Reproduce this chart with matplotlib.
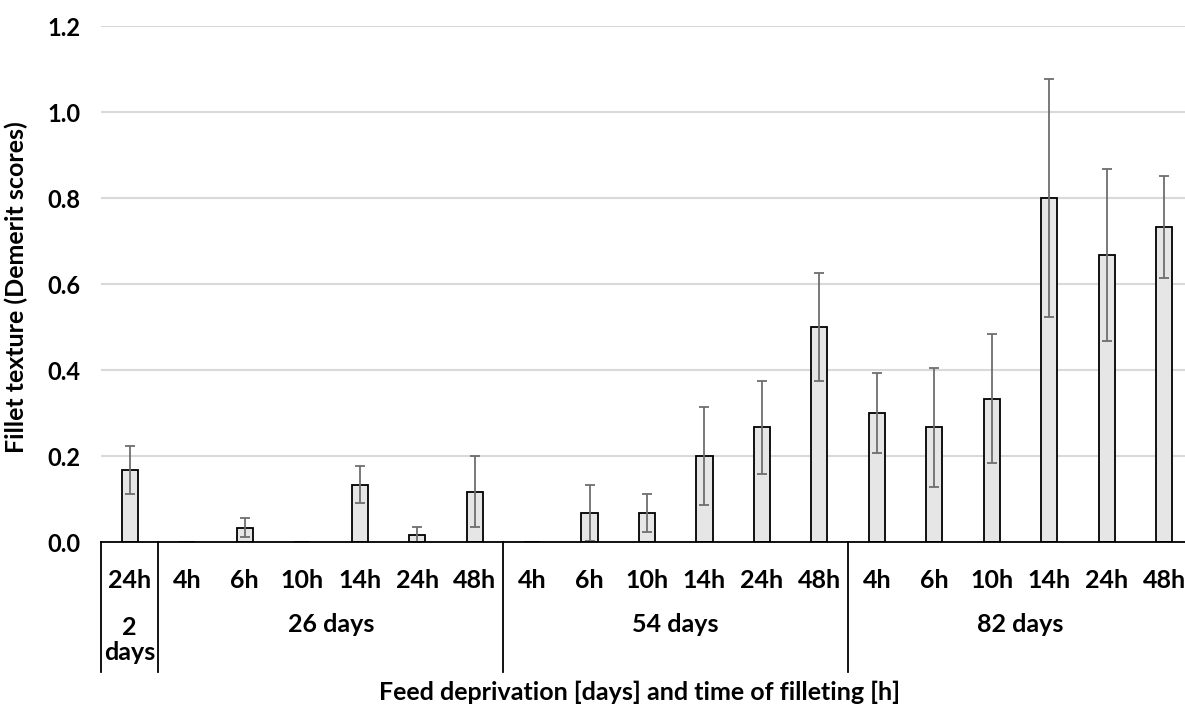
import numpy as np
import matplotlib.pyplot as plt

# Fillet texture scores by feed deprivation period and filleting time
hours = ['24h',
         '4h', '6h', '10h', '14h', '24h', '48h',
         '4h', '6h', '10h', '14h', '24h', '48h',
         '4h', '6h', '10h', '14h', '24h', '48h']
groups = ['2\ndays', '26 days', '54 days', '82 days']
group_sizes = [1, 6, 6, 6]
means = [0.167,
         0.0, 0.033, 0.0, 0.133, 0.017, 0.117,
         0.0, 0.067, 0.067, 0.2, 0.267, 0.5,
         0.3, 0.267, 0.333, 0.8, 0.667, 0.733]
errors = [0.056,
          0.0, 0.022, 0.0, 0.043, 0.018, 0.082,
          0.0, 0.065, 0.044, 0.115, 0.108, 0.125,
          0.092, 0.138, 0.15, 0.276, 0.2, 0.118]

plt.rcParams['font.family'] = ['Lato', 'DejaVu Sans']
plt.rcParams['font.weight'] = 'bold'
fs = 18

fig = plt.figure(figsize=(11.85, 7.04), dpi=100)
ax = fig.add_axes([101 / 1185, 162 / 704, 1092 / 1185, 516 / 704])

x = np.arange(len(means))
ax.bar(x, means, width=0.28, color='#e6e6e6', edgecolor='black', linewidth=1.3, zorder=3)
m = np.array(errors) > 0
ax.errorbar(x[m], np.array(means)[m], yerr=np.array(errors)[m], fmt='none',
            ecolor='#6e6e6e', elinewidth=1.3, capsize=3.5, capthick=1.3, zorder=4)

ax.set_xlim(-0.5, len(means) - 0.5)
ax.set_ylim(0, 1.2)
ax.set_yticks(np.arange(0, 1.21, 0.2))
ax.set_yticklabels([f'{v:.1f}' for v in np.arange(0, 1.21, 0.2)], fontsize=17, fontweight='bold')
ax.tick_params(axis='y', length=0, pad=15)
ax.set_xticks([])
ax.yaxis.grid(True, color='#d9d9d9', linewidth=1.5, zorder=0)
ax.set_axisbelow(True)
for s in ['top', 'right', 'left']:
    ax.spines[s].set_visible(False)
ax.spines['bottom'].set_linewidth(1.3)
ax.spines['bottom'].set_zorder(5)

tr = ax.get_xaxis_transform()
for i, h in enumerate(hours):
    ax.text(i, -39 / 516, h, transform=tr, ha='center', va='center', fontsize=fs, fontweight='bold')

start = -0.5
ax.plot([start, start], [0, -130 / 516], transform=tr, color='black', lw=1.3, clip_on=False)
for g, n in zip(groups, group_sizes):
    mid = start + n / 2
    if '\n' in g:
        ax.text(mid, -98 / 516, g, transform=tr, ha='center', va='center', fontsize=fs,
                fontweight='bold', linespacing=1.15)
    else:
        ax.text(mid, -83 / 516, g, transform=tr, ha='center', va='center', fontsize=fs, fontweight='bold')
    start += n
    ax.plot([start, start], [0, -130 / 516], transform=tr, color='black', lw=1.3, clip_on=False)

ax.set_ylabel('Fillet texture (Demerit scores)', fontsize=fs, fontweight='bold')
ax.yaxis.set_label_coords(-73 / 1092, 0.494)
fig.text(640 / 1185, 12 / 704, 'Feed deprivation [days] and time of filleting [h]',
         ha='center', va='center', fontsize=fs, fontweight='bold')

fig.savefig('out.png', dpi=100)
